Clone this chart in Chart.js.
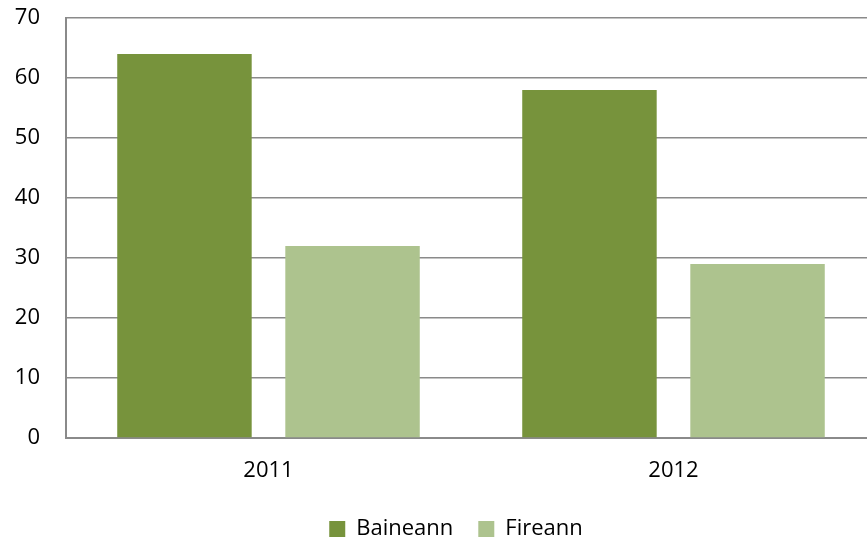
<!DOCTYPE html>
<html>
<head>
<meta charset="utf-8">
<script src="https://cdn.jsdelivr.net/npm/chart.js@4"></script>
<style>
  html, body { margin: 0; padding: 0; background: #fff; overflow: hidden; }
  #frame { width: 867px; height: 541px; overflow: hidden; }
  #wrap { width: 908px; height: 541px; }
</style>
</head>
<body>
<div id="frame"><div id="wrap"><canvas id="chart"></canvas></div></div>
<script>
const years = ['2011', '2012'];
const baineann = [64, 58];
const fireann = [32, 29];
const yTicks = [0, 10, 20, 30, 40, 50, 60, 70];

const fontFamily = "'Open Sans', 'Liberation Sans', sans-serif";

// centre the legend on the whole canvas rather than the padded box
const legendOffset = {
    id: 'legendOffset',
    afterLayout(chart) {
        const shift = 18;
        chart.legend.left += shift;
        chart.legend.right += shift;
    }
};

const ctx = document.getElementById('chart').getContext('2d');
new Chart(ctx, {
    type: 'bar',
    data: {
        labels: years,
        datasets: [
            { label: 'Baineann', data: baineann, backgroundColor: '#77933C' },
            { label: 'Fireann', data: fireann, backgroundColor: '#ADC38E' }
        ]
    },
    plugins: [legendOffset],
    options: {
        responsive: true,
        maintainAspectRatio: false,
        animation: false,
        categoryPercentage: 0.83,
        barPercentage: 0.8,
        layout: { padding: { top: 18, right: 32, left: 0, bottom: -9 } },
        plugins: {
            tooltip: { enabled: false },
            legend: {
                position: 'bottom',
                labels: {
                    color: '#000',
                    boxWidth: 16,
                    boxHeight: 16,
                    padding: 25,
                    font: { family: fontFamily, size: 22 }
                }
            }
        },
        scales: {
            x: {
                grid: { display: false, drawTicks: false },
                border: { display: true, color: '#8a8a8a', width: 2 },
                ticks: {
                    color: '#000',
                    padding: 20,
                    font: { family: fontFamily, size: 22 }
                },
                afterFit: (scale) => { scale.height = 55; }
            },
            y: {
                min: 0,
                max: 70,
                afterBuildTicks: (scale) => {
                    scale.ticks = yTicks.map(v => ({ value: v }));
                },
                // invisible tick marks keep the labels clear of the axis
                grid: {
                    color: '#8a8a8a',
                    lineWidth: 1.5,
                    drawTicks: true,
                    tickLength: 26,
                    tickColor: 'rgba(0,0,0,0)'
                },
                border: { display: true, color: '#8a8a8a', width: 2 },
                ticks: {
                    color: '#000',
                    padding: 0,
                    font: { family: fontFamily, size: 22 }
                },
                afterFit: (scale) => { scale.width = 66; }
            }
        }
    }
});
</script>
</body>
</html>
